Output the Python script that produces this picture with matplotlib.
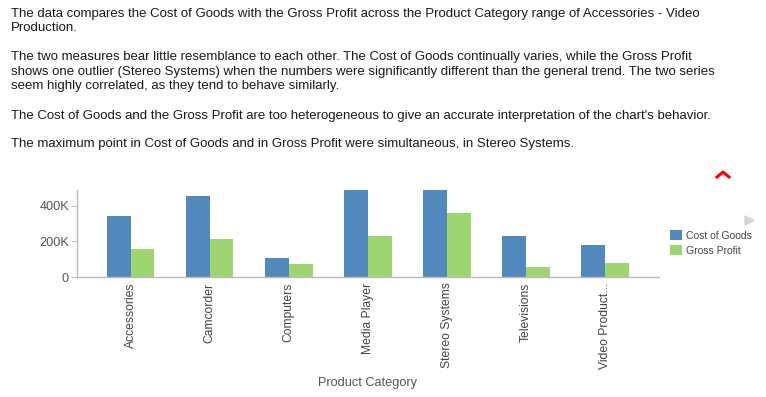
import matplotlib
matplotlib.use('Agg')
import matplotlib.pyplot as plt
import numpy as np

plt.rcParams['font.family'] = ['Liberation Sans', 'DejaVu Sans']

# Data
categories = ['Accessories', 'Camcorder', 'Computers', 'Media Player',
              'Stereo Systems', 'Televisions', 'Video Product...']
cost_of_goods = [342000, 454000, 106000, 485000, 487000, 230000, 179000]
gross_profit = [157000, 213000, 73000, 230000, 358000, 56000, 78000]
y_ticks = [0, 200000, 400000]
y_tick_labels = ['0', '200K', '400K']

paragraphs = [
    (16.7, 'The data compares the Cost of Goods with the Gross Profit across the Product Category range of Accessories - Video'),
    (31.4, 'Production.'),
    (60.0, 'The two measures bear little resemblance to each other. The Cost of Goods continually varies, while the Gross Profit'),
    (74.7, 'shows one outlier (Stereo Systems) when the numbers were significantly different than the general trend. The two series'),
    (89.4, 'seem highly correlated, as they tend to behave similarly.'),
    (118.5, "The Cost of Goods and the Gross Profit are too heterogeneous to give an accurate interpretation of the chart's behavior."),
    (146.7, 'The maximum point in Cost of Goods and in Gross Profit were simultaneous, in Stereo Systems.'),
]

W, H = 766, 397
fig = plt.figure(figsize=(W / 100, H / 100), dpi=100)

for y, line in paragraphs:
    fig.text(11 / W, 1 - y / H, line, fontsize=9.5, color='#1a1a1a', va='baseline', ha='left')

# Axes placement (pixels)
left, right, top, bottom = 76.7, 659, 190, 277
ax = fig.add_axes([left / W, 1 - bottom / H, (right - left) / W, (bottom - top) / H])

blue = '#5388bc'
green = '#9ed572'
x = np.arange(len(categories))
bw = 0.30
b1 = ax.bar(x - bw / 2, cost_of_goods, bw, color=blue, label='Cost of Goods')
b2 = ax.bar(x + bw / 2, gross_profit, bw, color=green, label='Gross Profit')

ax.set_xlim(-0.684, len(categories) - 1 + 0.684)
ax.set_ylim(0, 487000)
ax.set_yticks(y_ticks)
ax.set_yticklabels(y_tick_labels, fontsize=9.2, color='#555555')
ax.set_xticks(x)
ax.set_xticklabels(categories, rotation=90, fontsize=8.7, color='#444444')
ax.tick_params(axis='x', length=0, pad=4)
ax.tick_params(axis='y', length=4.5, color='#bbbbbb', pad=1)

for s in ['top', 'right']:
    ax.spines[s].set_visible(False)
for s in ['left', 'bottom']:
    ax.spines[s].set_color('#bbbbbb')
    ax.spines[s].set_linewidth(1)
ax.set_facecolor('none')

fig.text((left + right) / 2 / W, 1 - 386 / H, 'Product Category', fontsize=9.2,
         color='#555555', ha='center', va='baseline')

leg = fig.legend(handles=[b1, b2], loc='upper left', bbox_to_anchor=(667 / W, 1 - 227 / H),
                 frameon=False, fontsize=7.5, handlelength=1.15, handleheight=1.15,
                 handletextpad=0.35, labelspacing=0.4, borderaxespad=0, borderpad=0.3)
for t in leg.get_texts():
    t.set_color('#444444')

# red caret and grey arrow decorations
fig.add_artist(plt.Line2D([717 / W, 723 / W, 729 / W], [1 - 177 / H, 1 - 172 / H, 1 - 177 / H],
                          color='red', linewidth=2.2))
fig.add_artist(plt.Polygon([[745 / W, 1 - 216 / H], [754 / W, 1 - 220.5 / H], [745 / W, 1 - 225 / H]],
                           closed=True, color='#d4d4d4'))

fig.savefig('out.png', dpi=100)
